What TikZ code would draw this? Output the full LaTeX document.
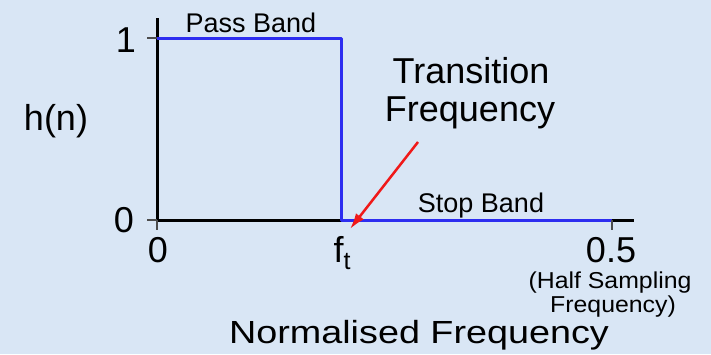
\documentclass[tikz,border=0pt]{standalone}
\usepackage{fontspec}
\setmainfont{Liberation Sans}
\usetikzlibrary{arrows.meta}
\definecolor{bgblue}{RGB}{217,230,245}
\definecolor{bandblue}{RGB}{45,45,240}
\definecolor{arrowred}{RGB}{240,25,25}
\tikzset{
  big/.style={font=\fontsize{36}{40}\selectfont, inner sep=0pt, anchor=base},
  small/.style={font=\fontsize{27}{30}\selectfont, inner sep=0pt, anchor=base},
  tiny/.style={font=\fontsize{23}{25}\selectfont, inner sep=0pt, anchor=base},
  tick/.style={black!70, line width=1.5pt}
}
\begin{document}
\begin{tikzpicture}[x=1pt, y=-1pt, line join=round]
	\fill[bgblue] (0,0) rectangle (711,354);
	\path (157,18) coordinate (Top)
		(157,220) coordinate (O)
		(634,220) coordinate (End)
		(157,38) coordinate (One)
		(341,38) coordinate (P)
		(341,220) coordinate (F)
		(612,220) coordinate (H)
		(418,142) coordinate (tail)
		(350,229) coordinate (tip);
	% axes and the ideal response
	\draw[line width=3pt] (Top)--(O)--(End);
	\draw[bandblue, line width=3pt] (One)--(P)--(F)--(H);
	\foreach \c in {One, O}
	\draw[tick] (\c)--++(-10,0);
	\foreach \c in {O, H}
	\draw[tick] (\c)--++(0,10);
	\draw[arrowred, line width=2.5pt, -{Latex[length=16pt,width=10pt]}] (tail)--(tip);
	% labels
	\node[big] (one) at (126,52) {1};
	\node[big] (zeroy) at (124,232) {0};
	\node[big] (hn) at (56,130) {h(n)};
	\node[small] (pass) at (251,32) {Pass Band};
	\node[small] (stop) at (481,212) {Stop Band};
	\node[big] (trans) at (471,83) {Transition};
	\node[big] (transf) at (470,121) {Frequency};
	\node[big] (zerox) at (158,262) {0};
	\node[big] (ft) at (342,262) {f\raisebox{-7pt}{\fontsize{25}{25}\selectfont t}};
	\node[big] (half) at (611,262) {0.5};
	\node[tiny, xscale=1.08] (hs1) at (610,288) {(Half Sampling};
	\node[tiny, xscale=1.08] (hs2) at (613,312) {Frequency)};
	\node[big, font=\fontsize{32}{36}\selectfont, xscale=1.18] (norm) at (419,343) {Normalised Frequency};
\end{tikzpicture}
\end{document}
